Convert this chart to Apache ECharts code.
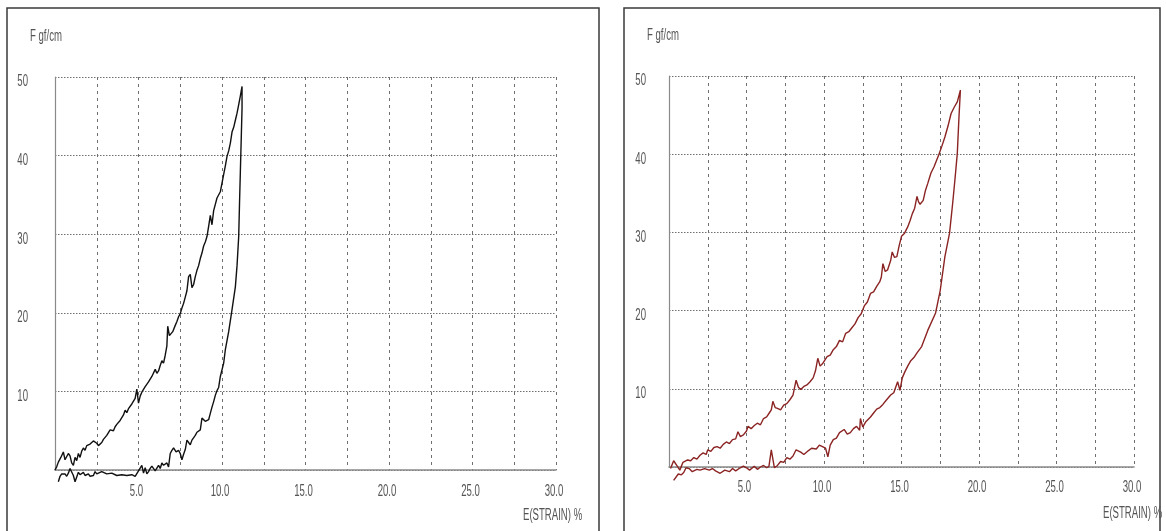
<!DOCTYPE html>
<html>
<head>
<meta charset="utf-8">
<script src="https://cdn.jsdelivr.net/npm/echarts@6/dist/echarts.min.js"></script>
<style>
  html, body { margin: 0; padding: 0; background: #fff; }
  #chart { width: 1166px; height: 531px; }
</style>
</head>
<body>
<div id="chart"></div>
<script>
// Strain (%) vs force (gf/cm) hysteresis loops: loading then unloading, point by point.
const sampleA = [
  [0,0],[0.1,0.4],[0.2,1.0],[0.35,1.6],[0.5,2.3],[0.6,1.3],[0.7,1.1],[0.8,2.1],[0.9,1.8],[1.0,0.9],
  [1.1,0.6],[1.2,1.6],[1.3,1.2],[1.4,2.1],[1.5,1.6],[1.6,2.4],[1.7,2.8],[1.8,2.5],[1.9,3.1],[2.0,2.9],
  [2.1,3.3],[2.2,3.2],[2.3,3.7],[2.4,3.5],[2.5,3.4],[2.6,3.1],[2.7,2.9],[2.8,3.5],[2.9,3.9],[3.0,3.8],
  [3.1,4.4],[3.2,4.3],[3.3,5.1],[3.4,4.9],[3.5,5.0],[3.6,5.5],[3.7,5.8],[3.8,5.6],[3.9,6.3],[4.0,6.1],
  [4.1,7.0],[4.2,7.6],[4.3,7.3],[4.4,7.8],[4.5,7.6],[4.6,8.4],[4.7,8.2],[4.8,9.1],[4.9,10.3],[5.0,8.5],
  [5.1,9.4],[5.2,9.9],[5.3,9.7],[5.4,10.6],[5.5,10.4],[5.6,11.2],[5.7,11.0],[5.8,11.9],[5.9,12.1],[6.0,12.8],
  [6.1,12.3],[6.2,12.6],[6.3,13.3],[6.4,13.9],[6.5,13.6],[6.6,14.6],[6.7,15.8],[6.75,18.3],[6.85,17.1],[6.95,17.0],
  [7.05,17.6],[7.2,18.4],[7.3,18.9],[7.4,19.5],[7.5,19.9],[7.6,20.6],[7.7,21.2],[7.8,22.0],[7.9,22.8],[8.0,24.6],
  [8.1,24.9],[8.2,23.2],[8.3,23.6],[8.4,24.6],[8.5,25.4],[8.6,26.0],[8.7,26.9],[8.8,27.6],[8.9,28.5],[9.0,29.0],
  [9.1,29.7],[9.2,31.0],[9.3,32.4],[9.4,31.2],[9.5,33.0],[9.6,33.8],[9.7,34.6],[9.8,34.8],[9.9,35.4],[10.0,36.5],
  [10.1,37.6],[10.2,38.7],[10.3,39.9],[10.4,40.6],[10.5,41.6],[10.6,43.0],[10.7,43.6],[10.8,44.5],[10.9,45.4],[11.0,46.5],
  [11.1,47.6],[11.2,48.8],
  [11.2,46.0],[11.15,42.0],[11.1,38.0],[11.05,34.0],[11.0,29.7],[10.9,26.0],[10.8,23.3],[10.6,20.4],[10.4,17.6],
  [10.2,15.3],[10.1,13.6],[9.9,11.9],[9.8,10.5],[9.7,10.1],[9.6,9.5],[9.5,8.7],[9.4,8.0],[9.3,7.2],[9.2,6.4],
  [9.1,6.5],[9.0,6.2],[8.9,6.0],[8.8,6.6],[8.7,5.1],[8.6,5.3],[8.5,4.8],[8.4,4.4],[8.3,4.2],[8.2,3.8],
  [8.1,3.2],[8.0,3.5],[7.9,3.8],[7.8,2.6],[7.7,2.0],[7.6,1.3],[7.5,2.1],[7.4,2.5],[7.25,2.3],[7.1,2.8],
  [7.0,2.5],[6.9,2.1],[6.8,0.4],[6.7,0.9],[6.6,0.8],[6.5,0.6],[6.4,0.9],[6.3,0.2],[6.2,0.6],[6.1,0.4],
  [6.0,-0.1],[5.9,0],[5.8,0.5],[5.7,0.2],[5.6,-0.2],[5.5,-0.5],[5.4,0.3],[5.3,-0.4],[5.2,0.6],[5.1,0.4],
  [5.0,-0.1],[4.9,-0.3],[4.8,-0.8],[4.6,-0.6],[4.5,-0.8],[4.3,-0.7],[4.2,-0.8],[4.0,-0.6],[3.9,-0.8],[3.7,-0.7],
  [3.6,-0.5],[3.4,-0.4],[3.3,-0.6],[3.1,-0.5],[3.0,-0.3],[2.8,-0.2],[2.7,-0.4],[2.5,-0.5],[2.4,-0.2],[2.3,-0.7],
  [2.1,-0.8],[2.0,-0.5],[1.9,-0.4],[1.8,-0.7],[1.7,-0.3],[1.6,-0.5],[1.5,-0.6],[1.4,-0.3],[1.3,-0.2],[1.2,-1.5],
  [1.1,-0.7],[1.0,-0.5],[0.9,0.2],[0.8,-0.4],[0.7,-0.8],[0.6,-0.5],[0.5,-0.6],[0.4,-0.5],[0.3,-0.8],[0.2,-1.5]
];

const sampleB = [
  [0.1,-0.2],[0.3,0.8],[0.5,0.2],[0.7,-0.4],[0.9,0.6],[1.0,0.4],[1.2,0.9],[1.4,0.8],[1.6,1.2],[1.8,1.0],
  [2.0,1.5],[2.2,1.8],[2.4,1.6],[2.5,2.2],[2.7,2.0],[2.9,2.5],[3.1,2.6],[3.3,2.4],[3.5,2.9],[3.7,3.2],
  [3.9,3.0],[4.1,3.5],[4.3,3.6],[4.45,4.5],[4.6,3.9],[4.8,4.1],[5.0,4.6],[5.1,5.2],[5.3,4.9],[5.5,5.3],
  [5.7,5.6],[5.9,5.4],[6.1,6.2],[6.3,6.4],[6.5,7.0],[6.6,7.3],[6.7,8.4],[6.85,7.6],[7.0,7.5],[7.2,7.3],
  [7.4,7.9],[7.6,8.1],[7.8,8.6],[8.0,9.2],[8.2,11.1],[8.35,10.2],[8.5,9.9],[8.7,10.3],[8.9,10.5],[9.1,10.9],
  [9.3,11.4],[9.45,12.3],[9.6,13.9],[9.75,12.9],[9.9,13.2],[10.0,13.0],[10.2,14.1],[10.4,14.3],[10.6,15.0],[10.8,15.4],
  [11.0,16.2],[11.2,16.0],[11.4,17.1],[11.6,17.3],[11.8,17.8],[12.0,18.3],[12.2,19.1],[12.4,19.6],[12.6,20.6],[12.8,21.1],
  [13.0,22.2],[13.2,22.4],[13.4,23.1],[13.6,23.7],[13.7,24.3],[13.8,26.0],[13.95,25.0],[14.1,25.2],[14.3,26.4],[14.4,27.5],
  [14.55,26.8],[14.7,26.9],[14.85,28.3],[15.0,29.5],[15.2,29.9],[15.4,30.7],[15.55,31.5],[15.7,32.4],[15.85,33.1],[16.0,34.6],
  [16.1,33.9],[16.2,33.6],[16.4,34.1],[16.55,35.4],[16.7,36.3],[16.9,37.6],[17.1,38.4],[17.4,39.9],[17.6,41.0],[17.8,42.2],
  [18.0,43.6],[18.2,45.2],[18.4,46.0],[18.6,46.7],[18.8,48.2],
  [18.7,44.4],[18.6,40.1],[18.45,36.8],[18.3,33.7],[18.1,29.9],[17.8,26.9],[17.5,22.6],[17.2,19.7],[16.7,17.5],[16.3,15.4],
  [16.0,14.6],[15.8,14.0],[15.6,13.6],[15.4,12.9],[15.2,12.1],[15.05,11.4],[14.9,9.8],[14.75,10.9],[14.5,9.5],[14.3,9.2],
  [14.0,8.5],[13.8,8.0],[13.6,7.6],[13.4,7.4],[13.2,6.9],[13.0,6.4],[12.7,5.8],[12.5,5.1],[12.35,6.2],[12.3,4.7],
  [12.1,5.2],[11.9,4.9],[11.7,4.4],[11.5,4.2],[11.3,4.8],[11.0,4.4],[10.8,3.7],[10.6,3.5],[10.4,2.8],[10.25,1.3],
  [10.1,2.4],[9.9,2.6],[9.7,2.8],[9.5,2.3],[9.2,2.4],[9.0,2.1],[8.7,1.6],[8.5,1.9],[8.2,2.2],[8.0,1.4],
  [7.8,1.0],[7.6,1.2],[7.4,0.6],[7.2,0.7],[7.0,0.2],[6.8,-0.1],[6.6,2.2],[6.45,0.1],[6.3,-0.1],[6.1,0.2],
  [5.9,0],[5.7,-0.3],[5.5,0.1],[5.2,-0.4],[5.0,-0.1],[4.8,0.1],[4.6,-0.1],[4.3,-0.5],[4.1,-0.2],[3.9,-0.6],
  [3.6,-0.4],[3.3,-0.8],[3.0,-0.5],[2.8,-0.2],[2.6,-0.4],[2.3,-0.2],[2.0,-0.4],[1.8,-0.3],[1.5,-0.6],[1.3,-0.2],
  [1.1,-0.1],[0.95,-0.7],[0.8,-1.0],[0.6,-0.9],[0.3,-1.7]
];

const forceTicks = [10, 20, 30, 40, 50];
const strainTicks = [5, 10, 15, 20, 25, 30];
const forceName = 'F gf/cm';
const strainName = 'E(STRAIN) %';

const FONT = "'Liberation Sans', Arial, sans-serif";
const textGray = '#555555';
const NARROW = 0.6;   // horizontal squeeze for the condensed instrument typeface

function xAxisFor(gridIndex) {
  return {
    gridIndex, type: 'value', min: 0, max: 30, interval: 2.5,
    axisLine: { lineStyle: { color: '#8a8a8a', width: 1.6 } },
    axisTick: { show: false },
    axisLabel: { show: false },
    splitLine: { show: true, lineStyle: { color: '#6f6f6f', type: [3, 4], width: 1 } }
  };
}
function yAxisFor(gridIndex) {
  return {
    gridIndex, type: 'value', min: 0, max: 50, interval: 10,
    axisLine: { show: true, lineStyle: { color: '#8a8a8a', width: 1.2 } },
    axisTick: { show: false },
    axisLabel: { show: false },
    splitLine: { show: true, lineStyle: { color: '#6f6f6f', type: [1.5, 1.5], width: 1 } }
  };
}

function narrowText(text, x, y, align) {
  return {
    type: 'text', x, y, scaleX: NARROW,
    style: { text, fill: textGray, font: '16px ' + FONT, align: align || 'left', verticalAlign: 'top' }
  };
}

const chart = echarts.init(document.getElementById('chart'), null, { renderer: 'canvas' });
chart.setOption({
  backgroundColor: '#ffffff',
  animation: false,
  grid: [
    { left: 55, top: 77, width: 501, height: 393 },
    { left: 669, top: 76, width: 465, height: 391 }
  ],
  xAxis: [xAxisFor(0), xAxisFor(1)],
  yAxis: [yAxisFor(0), yAxisFor(1)],
  series: [
    { type: 'line', xAxisIndex: 0, yAxisIndex: 0, data: sampleA, showSymbol: false, clip: false,
      lineStyle: { color: '#111111', width: 1.4 } },
    { type: 'line', xAxisIndex: 1, yAxisIndex: 1, data: sampleB, showSymbol: false, clip: false,
      lineStyle: { color: '#8b2323', width: 1.4 } }
  ]
});

// Tick labels in the condensed face, placed through each grid's own scales.
const graphics = [
  { type: 'rect', shape: { x: 7, y: 8, width: 592, height: 540 },
    style: { fill: 'none', stroke: '#3a3a3a', lineWidth: 1.5 } },
  { type: 'rect', shape: { x: 624, y: 8, width: 536, height: 540 },
    style: { fill: 'none', stroke: '#3a3a3a', lineWidth: 1.5 } }
];
[0, 1].forEach(g => {
  const origin = chart.convertToPixel({ gridIndex: g }, [0, 0]);
  forceTicks.forEach(v => {
    const p = chart.convertToPixel({ gridIndex: g }, [0, v]);
    graphics.push(narrowText(String(v), origin[0] - (g === 0 ? 27 : 23), p[1] - 3, 'right'));
  });
  strainTicks.forEach(v => {
    const p = chart.convertToPixel({ gridIndex: g }, [v, 0]);
    graphics.push(narrowText(v.toFixed(1), p[0] - 2, origin[1] + 14 - g, 'center'));
  });
});
graphics.push(narrowText(forceName, 30, 29));
graphics.push(narrowText(forceName, 647, 28));
graphics.push(narrowText(strainName, 523, 508));
graphics.push(narrowText(strainName, 1103, 506));
chart.setOption({ graphic: graphics });
</script>
</body>
</html>
